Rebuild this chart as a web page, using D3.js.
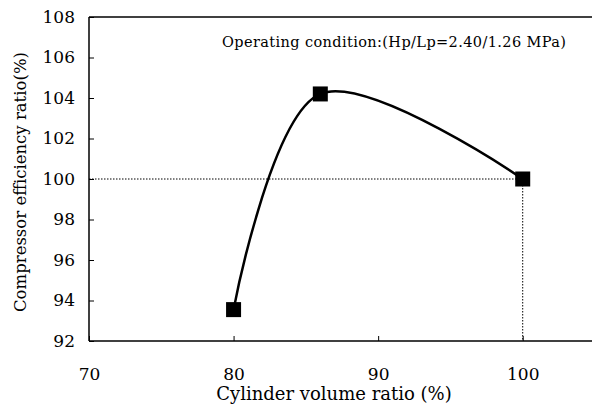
<!DOCTYPE html>
<html>
<head>
<meta charset="utf-8">
<script src="https://cdn.jsdelivr.net/npm/d3@7"></script>
<style>
  body { margin: 0; background: #fff; }
  text { font-family: "DejaVu Serif", serif; fill: #000; }
</style>
</head>
<body>
<div id="chart"></div>
<script>
// data
const volumeRatio = [80, 86, 100]
const efficiencyRatio = [93.55, 104.2, 100.0]
const xTicks = [70, 80, 90, 100]
const yTicks = [92, 94, 96, 98, 100, 102, 104, 106, 108]
const note = "Operating condition:(Hp/Lp=2.40/1.26 MPa)"

const width = 592, height = 411
const margin = { top: 17, right: -3, bottom: 70, left: 89 }

const svg = d3.select("#chart").append("svg")
  .attr("width", width).attr("height", height)

const x = d3.scaleLinear().domain([70, 105]).range([margin.left, width - margin.right])
const y = d3.scaleLinear().domain([92, 108]).range([height - margin.bottom, margin.top])

const points = volumeRatio.map((v, i) => ({ x: v, y: efficiencyRatio[i] }))

//frame: left, bottom, top
svg.append("line")
  .attr("x1", x(70)).attr("x2", x(70)).attr("y1", y(92)).attr("y2", y(108))
  .attr("stroke", "#000").attr("stroke-width", 1.5)
svg.append("line")
  .attr("x1", x(70)).attr("x2", width).attr("y1", y(92)).attr("y2", y(92))
  .attr("stroke", "#000").attr("stroke-width", 1.5)
svg.append("line")
  .attr("x1", x(70)).attr("x2", width).attr("y1", y(108)).attr("y2", y(108))
  .attr("stroke", "#000").attr("stroke-width", 1.5)

//y axis ticks inside
const yAxis = svg.append("g")
  .attr("transform", `translate(${x(70)},0)`)
  .call(d3.axisLeft(y).tickValues(yTicks).tickSizeInner(-5).tickSizeOuter(0).tickPadding(14))
yAxis.select(".domain").remove()
yAxis.selectAll("text").style("font-size", "17px")

//x axis ticks inside
const xAxis = svg.append("g")
  .attr("transform", `translate(0,${y(92)})`)
  .call(d3.axisBottom(x).tickValues(xTicks).tickSizeInner(-5).tickSizeOuter(0).tickPadding(27))
xAxis.select(".domain").remove()
xAxis.selectAll("text").style("font-size", "17px")

//dotted reference lines to the 100% point
const ref = points[2]
svg.append("line")
  .attr("x1", x(70)).attr("x2", x(ref.x)).attr("y1", y(ref.y)).attr("y2", y(ref.y))
  .attr("stroke", "#000").attr("stroke-width", 1).attr("stroke-dasharray", "1.5,1.5")
svg.append("line")
  .attr("x1", x(ref.x)).attr("x2", x(ref.x)).attr("y1", y(ref.y)).attr("y2", y(92))
  .attr("stroke", "#000").attr("stroke-width", 1).attr("stroke-dasharray", "1.5,1.5")

//smoothed line
const line = d3.line()
  .x(d => x(d.x)).y(d => y(d.y))
  .curve(d3.curveCatmullRom.alpha(0.5))

svg.append("path")
  .datum(points)
  .attr("d", line)
  .attr("fill", "none")
  .attr("stroke", "#000")
  .attr("stroke-width", 2.5)

//square markers
svg.selectAll(".marker")
  .data(points)
  .join("rect")
  .attr("class", "marker")
  .attr("x", d => x(d.x) - 7.5)
  .attr("y", d => y(d.y) - 7.5)
  .attr("width", 15).attr("height", 15)
  .attr("fill", "#000")

//annotation
svg.append("text")
  .attr("x", 222).attr("y", 47)
  .attr("textLength", 344)
  .style("font-size", "14.5px")
  .text(note)

//axis titles
svg.append("text")
  .attr("x", 334).attr("y", 400)
  .attr("text-anchor", "middle")
  .style("font-size", "18px")
  .text("Cylinder volume ratio (%)")

svg.append("text")
  .attr("transform", `translate(26,182) rotate(-90)`)
  .attr("text-anchor", "middle")
  .style("font-size", "16.5px")
  .text("Compressor efficiency ratio(%)")
</script>
</body>
</html>
